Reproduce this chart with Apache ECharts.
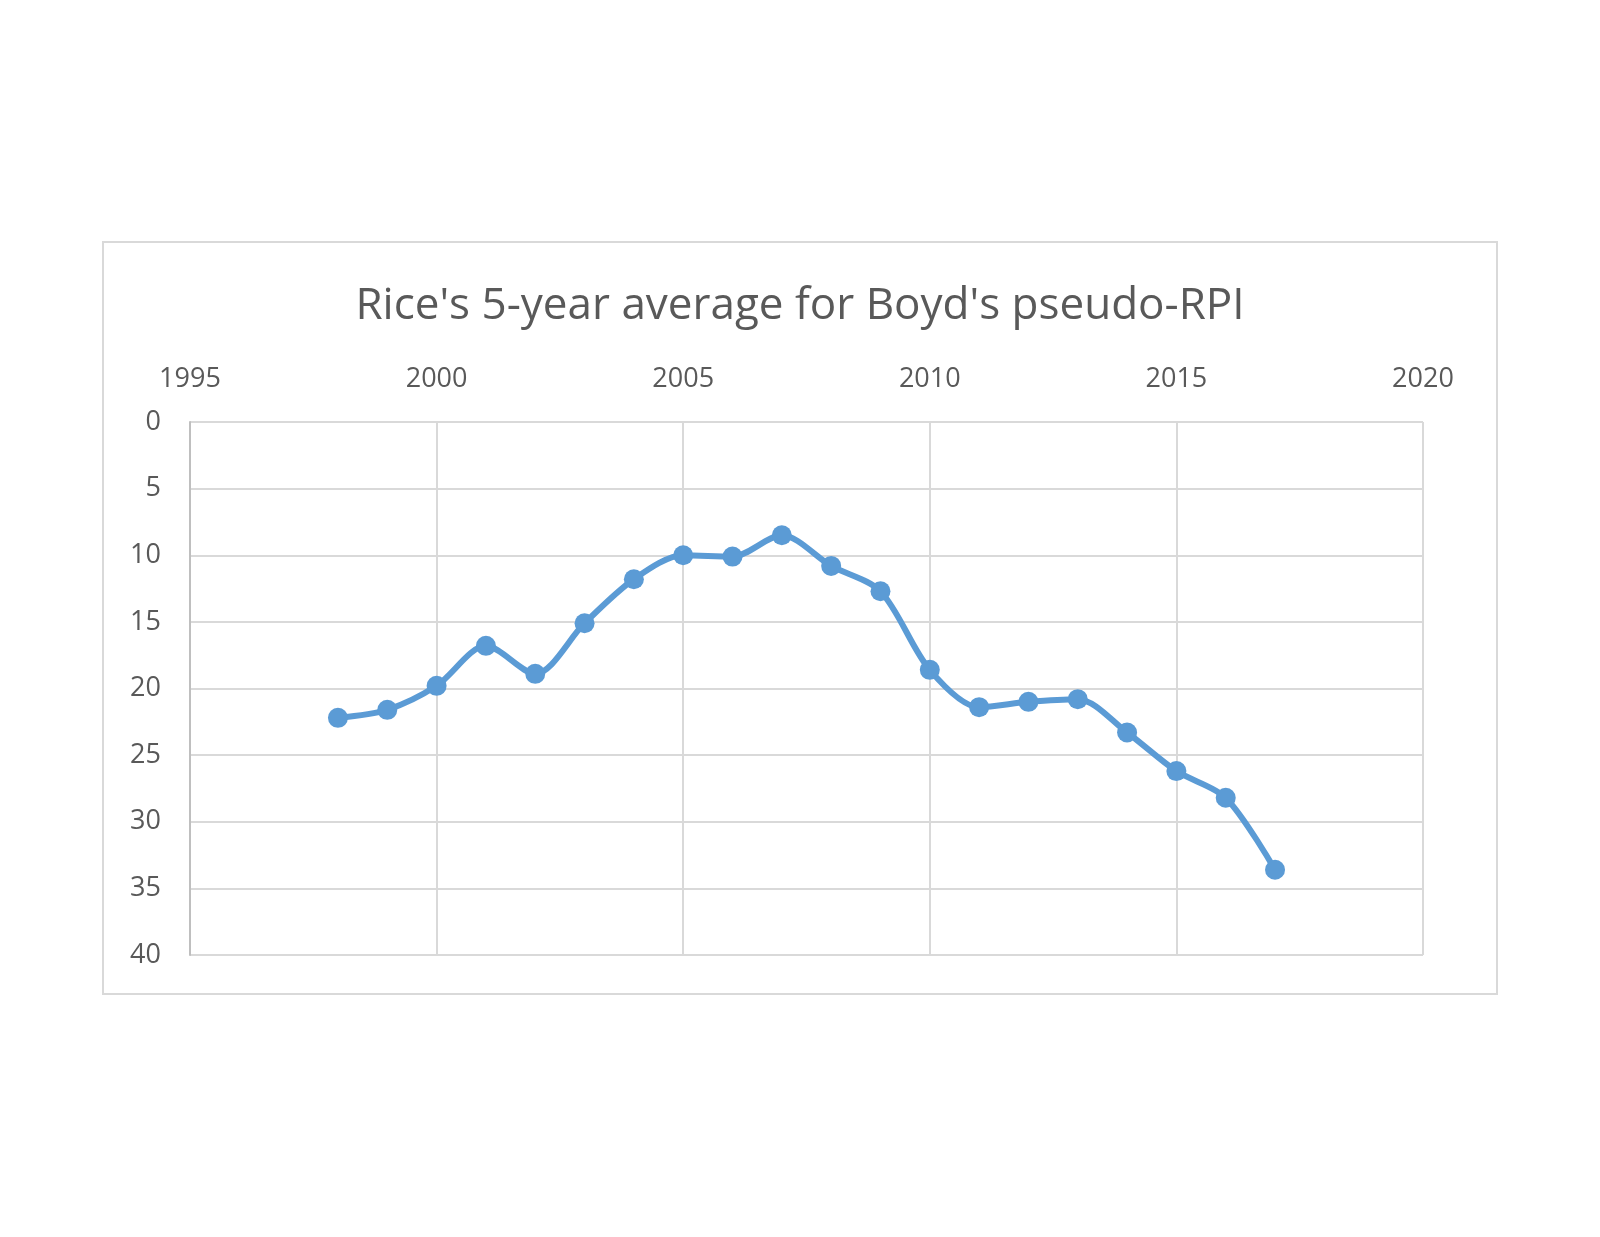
<!DOCTYPE html>
<html>
<head>
<meta charset="utf-8">
<style>
  html, body { margin: 0; padding: 0; background: #fff; }
  #chart { width: 1600px; height: 1237px; }
</style>
<script src="https://cdn.jsdelivr.net/npm/echarts@6/dist/echarts.min.js"></script>
</head>
<body>
<div id="chart"></div>
<script>
const years = [1998, 1999, 2000, 2001, 2002, 2003, 2004, 2005, 2006, 2007,
  2008, 2009, 2010, 2011, 2012, 2013, 2014, 2015, 2016, 2017];
const avgRank = [22.2, 21.6, 19.8, 16.8, 18.9, 15.1, 11.8, 10.0, 10.1, 8.5,
  10.8, 12.7, 18.6, 21.4, 21.0, 20.8, 23.3, 26.2, 28.2, 33.6];
const titleText = "Rice's 5-year average for Boyd's pseudo-RPI";

const chart = echarts.init(document.getElementById('chart'));
const txt = '#595959';
const gridCol = '#d9d9d9';

chart.setOption({
  animation: false,
  backgroundColor: '#ffffff',
  textStyle: { fontFamily: 'Open Sans' },
  graphic: [{
    type: 'rect',
    shape: { x: 103, y: 242, width: 1394, height: 752 },
    style: { fill: 'none', stroke: gridCol, lineWidth: 2 },
    silent: true
  }],
  title: {
    text: titleText,
    left: 'center',
    top: 279,
    textStyle: { color: txt, fontSize: 44, fontWeight: 'normal', fontFamily: 'Open Sans' }
  },
  grid: { left: 190, top: 422, right: 177, bottom: 282 },
  xAxis: {
    type: 'value',
    position: 'top',
    min: 1995,
    max: 2020,
    interval: 5,
    axisLine: { show: false },
    axisTick: { show: false },
    axisLabel: { color: txt, fontSize: 27, margin: 29, formatter: v => String(v) },
    splitLine: { lineStyle: { color: gridCol, width: 2 } }
  },
  yAxis: {
    type: 'value',
    inverse: true,
    min: 0,
    max: 40,
    interval: 5,
    axisLine: { show: true, lineStyle: { color: '#bfbfbf', width: 2 } },
    axisTick: { show: false },
    axisLabel: { color: txt, fontSize: 27, margin: 29 },
    splitLine: { lineStyle: { color: gridCol, width: 2 } }
  },
  series: [{
    type: 'line',
    data: years.map((y, i) => [y, avgRank[i]]),
    smooth: 0.3,
    symbol: 'circle',
    symbolSize: 20,
    lineStyle: { color: '#5b9bd5', width: 6 },
    itemStyle: { color: '#5b9bd5' }
  }]
});
</script>
</body>
</html>
